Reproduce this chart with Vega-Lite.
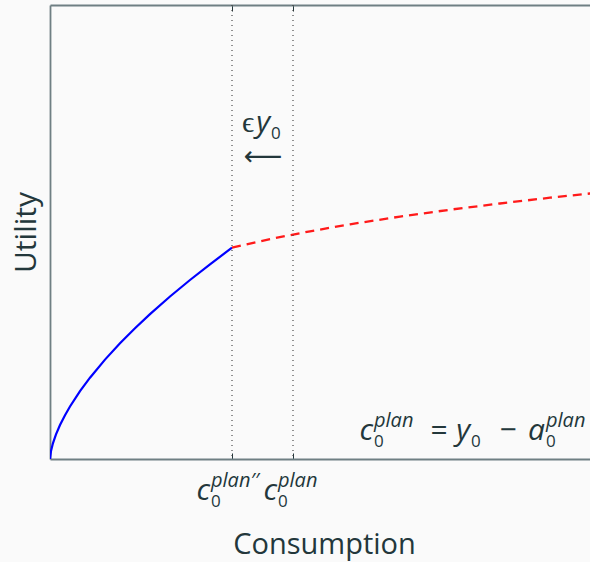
{
  "$schema": "https://vega.github.io/schema/vega-lite/v6.json",
  "width": 540,
  "height": 454,
  "autosize": {"type": "none"},
  "padding": {"left": 50, "top": 5, "right": 0, "bottom": 103},
  "background": "#fafafa",
  "config": {
    "view": {"stroke": null},
    "font": "Open Sans",
    "text": {"font": "Open Sans", "color": "#23373b"}
  },
  "datasets": {
    "before": [
      {"c": 0, "u": 0}, {"c": 0.1, "u": 0.8}, {"c": 0.3, "u": 1.59}, {"c": 0.6, "u": 2.46},
      {"c": 1.0, "u": 3.4}, {"c": 1.5, "u": 4.38}, {"c": 2.0, "u": 5.25}, {"c": 3.0, "u": 6.79},
      {"c": 4.0, "u": 8.13}, {"c": 5.5, "u": 9.94}, {"c": 7.0, "u": 11.57}, {"c": 8.5, "u": 13.08},
      {"c": 10.0, "u": 14.49}, {"c": 12.0, "u": 16.25}, {"c": 14.0, "u": 17.9}, {"c": 16.0, "u": 19.47},
      {"c": 18.2, "u": 21.13}
    ],
    "after": [
      {"c": 18.2, "u": 21.13}, {"c": 22.0, "u": 21.99}, {"c": 26.0, "u": 22.77}, {"c": 30.0, "u": 23.47},
      {"c": 35.0, "u": 24.24}, {"c": 40.0, "u": 24.93}, {"c": 45.0, "u": 25.55}, {"c": 50.0, "u": 26.13},
      {"c": 54.0, "u": 26.55}, {"c": 56.0, "u": 26.76}
    ],
    "levels": [{"c": 18.2}, {"c": 24.3}],
    "base": [
      {"x": 16.0, "y": -4.1, "t": "c"},
      {"x": 22.7, "y": -4.1, "t": "c"},
      {"x": 32.3, "y": 1.9, "t": "c"},
      {"x": 42.0, "y": 1.9, "t": "y"},
      {"x": 49.5, "y": 1.9, "t": "a"},
      {"x": 22.0, "y": 32.7, "t": "y"}
    ],
    "sub": [
      {"x": 16.0, "y": -4.1, "t": "0"},
      {"x": 22.7, "y": -4.1, "t": "0"},
      {"x": 32.3, "y": 1.9, "t": "0"},
      {"x": 42.0, "y": 1.9, "t": "0"},
      {"x": 49.5, "y": 1.9, "t": "0"},
      {"x": 22.0, "y": 32.7, "t": "0"}
    ],
    "sup": [
      {"x": 16.0, "y": -4.1, "t": "plan′′"},
      {"x": 22.7, "y": -4.1, "t": "plan"},
      {"x": 32.3, "y": 1.9, "t": "plan"},
      {"x": 49.5, "y": 1.9, "t": "plan"}
    ],
    "ops": [
      {"x": 38.9, "y": 1.9, "t": "="},
      {"x": 45.8, "y": 1.9, "t": "−"},
      {"x": 19.8, "y": 32.7, "t": "ϵ"}
    ],
    "arrow": [{"x": 21.3, "y": 29.4, "t": "⟵"}]
  },
  "resolve": {"axis": {"x": "independent"}},
  "layer": [
    {
      "layer": [
        {
          "data": {"name": "before"},
          "mark": {"type": "line", "color": "#0000ff", "strokeWidth": 2.2, "clip": true},
          "encoding": {
            "x": {
              "field": "c", "type": "quantitative",
              "scale": {"domain": [0, 54], "nice": false, "zero": false},
              "axis": {
                "title": "Consumption", "values": [18.2, 24.3], "labels": false, "grid": false,
                "ticks": true, "tickSize": -6, "tickColor": "#23373b", "tickWidth": 1,
                "domainColor": "#6f7f83", "domainWidth": 1.8,
                "titleFont": "Open Sans", "titleFontSize": 29, "titleFontWeight": "normal",
                "titleColor": "#23373b", "titleBaseline": "alphabetic", "titleAlign": "center",
                "titleX": 274, "titleY": 94
              }
            },
            "y": {
              "field": "u", "type": "quantitative",
              "scale": {"domain": [0, 45.4], "nice": false, "zero": false},
              "axis": {
                "title": "Utility", "labels": false, "ticks": false, "grid": false,
                "domainColor": "#6f7f83", "domainWidth": 1.8,
                "titleFont": "Open Sans", "titleFontSize": 30, "titleFontWeight": "normal",
                "titleColor": "#23373b", "titleBaseline": "alphabetic", "titlePadding": 15
              }
            }
          }
        },
        {
          "data": {"name": "after"},
          "mark": {"type": "line", "color": "#ff1a1a", "strokeWidth": 2.3, "strokeDash": [9, 6], "clip": true},
          "encoding": {
            "x": {"field": "c", "type": "quantitative"},
            "y": {"field": "u", "type": "quantitative"}
          }
        },
        {
          "data": {"name": "base"},
          "mark": {"type": "text", "fontSize": 30, "fontStyle": "italic", "align": "right", "baseline": "alphabetic"},
          "encoding": {
            "x": {"field": "x", "type": "quantitative"},
            "y": {"field": "y", "type": "quantitative"},
            "text": {"field": "t"}
          }
        },
        {
          "data": {"name": "sub"},
          "mark": {"type": "text", "fontSize": 17, "align": "left", "baseline": "alphabetic", "dx": 1, "dy": 7},
          "encoding": {
            "x": {"field": "x", "type": "quantitative"},
            "y": {"field": "y", "type": "quantitative"},
            "text": {"field": "t"}
          }
        },
        {
          "data": {"name": "sup"},
          "mark": {"type": "text", "fontSize": 20, "fontStyle": "italic", "align": "left", "baseline": "alphabetic", "dx": 1, "dy": -13},
          "encoding": {
            "x": {"field": "x", "type": "quantitative"},
            "y": {"field": "y", "type": "quantitative"},
            "text": {"field": "t"}
          }
        },
        {
          "data": {"name": "ops"},
          "mark": {"type": "text", "fontSize": 30, "align": "center", "baseline": "alphabetic"},
          "encoding": {
            "x": {"field": "x", "type": "quantitative"},
            "y": {"field": "y", "type": "quantitative"},
            "text": {"field": "t"}
          }
        },
        {
          "data": {"name": "arrow"},
          "mark": {"type": "text", "font": "DejaVu Sans", "fontSize": 27, "align": "center", "baseline": "alphabetic"},
          "encoding": {
            "x": {"field": "x", "type": "quantitative"},
            "y": {"field": "y", "type": "quantitative"},
            "text": {"field": "t"}
          }
        }
      ]
    },
    {
      "data": {"name": "levels"},
      "mark": {"type": "rule", "color": "#3a3a3a", "strokeWidth": 1.1, "strokeDash": [1, 4]},
      "encoding": {
        "x": {
          "field": "c", "type": "quantitative",
          "axis": {
            "orient": "top", "title": null, "values": [18.2, 24.3], "labels": false, "grid": false,
            "ticks": true, "tickSize": -6, "tickColor": "#23373b", "tickWidth": 1,
            "domainColor": "#6f7f83", "domainWidth": 1.8
          }
        }
      }
    }
  ]
}
